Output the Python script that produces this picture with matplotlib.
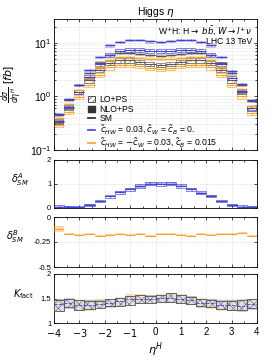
import numpy as np
import matplotlib
matplotlib.use("Agg")
import matplotlib.pyplot as plt
from matplotlib.patches import Patch
from matplotlib.lines import Line2D

plt.rcParams['font.family'] = ['Liberation Sans', 'DejaVu Sans']
plt.rcParams['mathtext.fontset'] = 'dejavusans'
plt.rcParams['hatch.linewidth'] = 0.4

# ---- data (20 bins of eta^H from -4 to 4) ----
bin_edges = [-4.0, -3.6, -3.2, -2.8, -2.4, -2.0, -1.6, -1.2, -0.8, -0.4, 0.0,
             0.4, 0.8, 1.2, 1.6, 2.0, 2.4, 2.8, 3.2, 3.6, 4.0]

sm_lo = [0.33, 0.62, 1.2, 2.0, 3.1, 4.2, 4.7, 4.7, 4.4, 4.0,
         3.9, 4.0, 4.4, 4.7, 4.7, 4.2, 3.1, 2.0, 1.2, 0.6]
sm_nlo = [0.45, 0.87, 1.63, 2.74, 4.3, 5.9, 6.5, 6.5, 6.2, 5.9,
          5.8, 5.9, 6.2, 6.5, 6.5, 5.9, 4.2, 2.7, 1.65, 0.83]
blue_lo = [0.35, 0.64, 1.2, 2.3, 4.0, 6.0, 7.1, 7.5, 7.4, 7.2,
           7.1, 7.2, 7.5, 7.5, 7.1, 6.0, 4.0, 2.24, 1.26, 0.61]
blue_nlo = [0.47, 0.90, 1.63, 3.1, 5.5, 9.0, 10.5, 11.3, 11.2, 10.7,
            10.5, 10.8, 11.3, 11.4, 10.4, 9.0, 5.5, 3.0, 1.73, 0.85]
orange_lo = [0.29, 0.51, 0.98, 1.66, 2.5, 3.5, 3.9, 3.9, 3.7, 3.4,
             3.3, 3.4, 3.7, 3.9, 3.9, 3.5, 2.55, 1.66, 1.0, 0.49]
orange_nlo = [0.39, 0.72, 1.34, 2.27, 3.5, 4.9, 5.5, 5.5, 5.3, 5.1,
              5.0, 5.1, 5.3, 5.5, 5.5, 4.9, 3.5, 2.24, 1.37, 0.67]
lo_rel_unc = 0.09
nlo_rel_unc = 0.05

delta_a = [0.06, 0.05, 0.03, 0.12, 0.28, 0.48, 0.65, 0.78, 0.90, 1.02,
           1.00, 1.02, 0.92, 0.78, 0.63, 0.50, 0.28, 0.12, 0.06, 0.04]
delta_a_unc = [0.04, 0.03, 0.03, 0.03, 0.03, 0.03, 0.04, 0.04, 0.05, 0.05,
               0.05, 0.05, 0.05, 0.04, 0.04, 0.03, 0.03, 0.03, 0.03, 0.03]
delta_b = [-0.12, -0.17, -0.18, -0.17, -0.19, -0.18, -0.17, -0.18, -0.17, -0.19,
           -0.17, -0.17, -0.18, -0.19, -0.17, -0.18, -0.17, -0.17, -0.16, -0.19]
delta_b_unc = [0.03, 0.01, 0.01, 0.01, 0.01, 0.01, 0.01, 0.01, 0.01, 0.01,
               0.01, 0.01, 0.01, 0.01, 0.01, 0.01, 0.01, 0.01, 0.01, 0.01]

k_sm_lo = [1.25, 1.32, 1.26, 1.28, 1.31, 1.34, 1.35, 1.37, 1.40, 1.41,
           1.42, 1.43, 1.40, 1.38, 1.34, 1.32, 1.28, 1.26, 1.27, 1.30]
k_sm_hi = [1.47, 1.50, 1.46, 1.45, 1.45, 1.48, 1.52, 1.55, 1.57, 1.56,
           1.58, 1.61, 1.57, 1.54, 1.50, 1.47, 1.45, 1.45, 1.46, 1.48]
k_blue_lo = [1.28, 1.30, 1.27, 1.29, 1.32, 1.33, 1.36, 1.40, 1.41, 1.43,
             1.43, 1.43, 1.41, 1.38, 1.33, 1.32, 1.29, 1.27, 1.24, 1.28]
k_blue_hi = [1.50, 1.52, 1.47, 1.46, 1.47, 1.48, 1.52, 1.56, 1.58, 1.57,
             1.58, 1.60, 1.58, 1.55, 1.50, 1.48, 1.46, 1.46, 1.47, 1.50]
k_orange_lo = [1.27, 1.33, 1.27, 1.27, 1.32, 1.35, 1.36, 1.39, 1.42, 1.42,
               1.43, 1.44, 1.41, 1.38, 1.35, 1.31, 1.27, 1.27, 1.28, 1.30]
k_orange_hi = [1.48, 1.50, 1.47, 1.46, 1.49, 1.49, 1.53, 1.59, 1.60, 1.58,
               1.60, 1.62, 1.59, 1.55, 1.52, 1.50, 1.45, 1.46, 1.48, 1.47]

edges = np.array(bin_edges)
left = edges[:-1]
w = np.diff(edges)
ctr = left + w / 2

c_sm = '#555555'
c_blue = '#4040d8'
c_orange = '#ffa020'

fig = plt.figure(figsize=(2.7, 3.6), dpi=100)
L, W = 54 / 270, 203 / 270

def fax(top_px, bot_px):
    return fig.add_axes([L, 1 - bot_px / 360, W, (bot_px - top_px) / 360])

ax0 = fax(19, 150)
ax1 = fax(160, 208)
ax2 = fax(217, 267)
ax3 = fax(274, 323)

def style(ax):
    ax.set_xlim(-4, 4)
    ax.tick_params(direction='in', which='both', top=True, right=True,
                   labelsize=5.5, length=2.5, width=0.5, pad=2)
    ax.tick_params(which='minor', length=1.5)
    ax.grid(True, which='major', color='#c8c8c8', ls=':', lw=0.5)
    for s in ax.spines.values():
        s.set_linewidth(0.6)
    ax.set_xticks(range(-4, 5))
    ax.set_xticks(np.arange(-4, 4.01, 0.5), minor=True)

def draw_model(ax, lo, nlo, col):
    lo = np.array(lo); nlo = np.array(nlo)
    ax.bar(left, 2 * lo_rel_unc * lo, bottom=lo * (1 - lo_rel_unc), width=w * 0.9, align='edge',
           facecolor='none', edgecolor=col, hatch='////', lw=0.6, alpha=0.75, zorder=2)
    ax.bar(left, 2 * nlo_rel_unc * nlo, bottom=nlo * (1 - nlo_rel_unc), width=w * 0.9, align='edge',
           facecolor=col, edgecolor=col, alpha=0.35, lw=0.4, zorder=3)
    for v in (lo, nlo):
        ax.hlines(v, left, left + w, colors=col, lw=0.7, zorder=4)
        ax.errorbar(ctr, v, yerr=0.03 * v, fmt='none', ecolor=col, elinewidth=0.5, capsize=0, zorder=4)

# main panel
style(ax0)
ax0.set_yscale('log')
ax0.set_ylim(0.1, 28)
draw_model(ax0, orange_lo, orange_nlo, c_orange)
draw_model(ax0, sm_lo, sm_nlo, c_sm)
draw_model(ax0, blue_lo, blue_nlo, c_blue)
ax0.grid(True, which='minor', axis='y', color='#d0d0d0', ls=':', lw=0.5)
ax0.tick_params(axis='y', labelsize=7.5)
ax0.set_xticklabels([])
ax0.set_title(r'Higgs $\eta$', fontsize=7.5, pad=3)
ax0.set_ylabel(r'$\frac{d\sigma}{d\eta^{H}}$ [$fb$]', fontsize=8, labelpad=3)
ax0.text(0.975, 0.905, r'W$^{+}$H: H$\rightarrow$ $b\bar{b}$, $W\rightarrow l^{+}\nu$',
         transform=ax0.transAxes, ha='right', va='center', fontsize=6.2)
ax0.text(0.975, 0.83, 'LHC 13 TeV', transform=ax0.transAxes, ha='right', va='center', fontsize=6.2)

handles = [Patch(facecolor='white', edgecolor='#333333', hatch='//////', lw=0.6),
           Patch(facecolor='#333333', edgecolor='#333333'),
           Line2D([], [], color='#222222', lw=1.2),
           Line2D([], [], color=c_blue, lw=1.2),
           Line2D([], [], color=c_orange, lw=1.2)]
labels = ['LO+PS', 'NLO+PS', 'SM',
          r'$\tilde{c}_{HW}$ = 0.03, $\tilde{c}_{W}$ = $\tilde{c}_{B}$ = 0.',
          r'$\tilde{c}_{HW}$ = $-\tilde{c}_{W}$ = 0.03, $\tilde{c}_{B}$ = 0.015']
ax0.legend(handles, labels, loc='lower left', bbox_to_anchor=(0.14, -0.035), fontsize=6.2,
           frameon=False, handlelength=0.9, handleheight=0.7, handletextpad=0.5,
           labelspacing=0.05, borderaxespad=0.2)

# delta A panel
style(ax1)
da = np.array(delta_a); dau = np.array(delta_a_unc)
ax1.bar(left, 2 * dau * 1.6, bottom=da - dau * 1.6, width=w, align='edge', facecolor='none',
        edgecolor=c_blue, hatch='////', lw=0.6, alpha=0.75, zorder=2)
ax1.bar(left, 2 * dau, bottom=da - dau, width=w, align='edge', facecolor=c_blue,
        edgecolor='none', alpha=0.35, zorder=3)
ax1.hlines(da, left, left + w, colors=c_blue, lw=0.7, zorder=4)
ax1.errorbar(ctr, da, yerr=0.03, fmt='none', ecolor=c_blue, elinewidth=0.5, zorder=4)
ax1.set_ylim(0, 2)
ax1.set_yticks([0, 1, 2])
ax1.set_xticklabels([])
ax1.set_ylabel(r'$\delta^{A}_{SM}$', fontsize=7, rotation=0, va='center')

# delta B panel
style(ax2)
db = np.array(delta_b); dbu = np.array(delta_b_unc)
ax2.bar(left, 2 * dbu, bottom=db - dbu, width=w, align='edge', facecolor=c_orange,
        edgecolor='none', alpha=0.4, zorder=3)
ax2.hlines(db, left, left + w, colors=c_orange, lw=0.7, zorder=4)
ax2.errorbar(ctr, db, yerr=0.012, fmt='none', ecolor=c_orange, elinewidth=0.5, zorder=4)
ax2.set_ylim(-0.5, 0)
ax2.set_yticks([-0.5, -0.25, 0])
ax2.set_yticklabels(['-0.5', '-0.25', '0'])
ax2.set_xticklabels([])
ax2.set_ylabel(r'$\delta^{B}_{SM}$', fontsize=7, rotation=0, va='center')

# K factor panel
style(ax3)
kb_lo = np.array(k_blue_lo); kb_hi = np.array(k_blue_hi)
ko_lo = np.array(k_orange_lo); ko_hi = np.array(k_orange_hi)
ks_lo = np.array(k_sm_lo); ks_hi = np.array(k_sm_hi)
ax3.bar(left, ko_hi - ko_lo, bottom=ko_lo, width=w, align='edge', facecolor=c_orange,
        edgecolor=c_orange, alpha=0.3, lw=0.5, zorder=2)
ax3.bar(left, kb_hi - kb_lo, bottom=kb_lo, width=w, align='edge', facecolor=c_blue,
        edgecolor=c_blue, alpha=0.25, lw=0.5, zorder=2)
ax3.bar(left, ks_hi - ks_lo, bottom=ks_lo, width=w, align='edge', facecolor='#e4e4e4',
        edgecolor='#505050', hatch='xxxx', lw=0.7, alpha=0.85, zorder=3)
ax3.hlines((kb_lo + kb_hi) / 2, left, left + w, colors=c_blue, lw=0.6, ls='--', zorder=4)
ax3.set_ylim(1, 2)
ax3.set_yticks([1, 1.5, 2])
ax3.set_yticklabels(['1', '1.5', '2'])
ax3.tick_params(axis='x', labelsize=7, pad=3)
ax3.set_xticklabels(['$-4$', '$-3$', '$-2$', '$-1$', '0', '1', '2', '3', '4'])
ax3.set_ylabel(r'$K_{\rm fact}$', fontsize=7, rotation=0, va='center')
ax3.set_xlabel(r'$\eta^{H}$', fontsize=8, labelpad=1)

ax1.yaxis.set_label_coords(-0.17, 0.6)
ax2.yaxis.set_label_coords(-0.19, 0.6)
ax3.yaxis.set_label_coords(-0.15, 0.6)

fig.savefig('out.png', dpi=100)
